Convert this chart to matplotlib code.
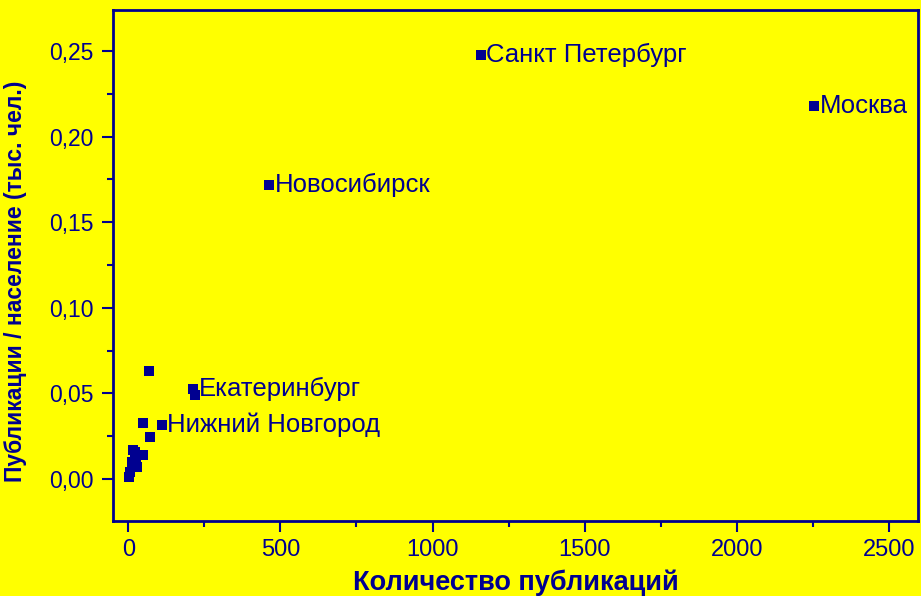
import matplotlib
matplotlib.use("Agg")
import matplotlib.pyplot as plt
from matplotlib.ticker import MultipleLocator, FuncFormatter

# publications count vs publications per population (thousand people)
pubs = [2255, 1159, 463, 214, 218, 110, 67, 50, 70, 50,
        17, 12, 28, 7, 1, 23, 26]
ratio = [0.218, 0.248, 0.172, 0.0525, 0.049, 0.0315, 0.063, 0.033, 0.0243, 0.014,
         0.017, 0.010, 0.007, 0.004, 0.0013, 0.016, 0.012]
names = ["Москва", "Санкт Петербург", "Новосибирск", "Екатеринбург", "", "Нижний Новгород",
         "", "", "", "", "", "", "", "", "", "", ""]

navy = "#000090"
bg = "#ffff00"

plt.rcParams['font.family'] = ['Liberation Sans', 'DejaVu Sans']

fig = plt.figure(figsize=(9.21, 5.96), dpi=100, facecolor=bg)
ax = fig.add_axes([0.1227, 0.1258, 0.874, 0.8574], facecolor=bg)

ax.plot(pubs, ratio, linestyle='none', marker='s', markersize=7.5,
        color=navy, markeredgewidth=0)
for x, y, n in zip(pubs, ratio, names):
    if n:
        ax.annotate(n, (x, y), xytext=(4, 0), textcoords='offset points',
                    va='center', ha='left', fontsize=18.5, color=navy)

ax.set_xlim(-50, 2595)
ax.set_ylim(-0.0245, 0.274)
ax.xaxis.set_major_locator(MultipleLocator(500))
ax.xaxis.set_minor_locator(MultipleLocator(250))
ax.yaxis.set_major_locator(MultipleLocator(0.05))
ax.yaxis.set_minor_locator(MultipleLocator(0.025))
ax.yaxis.set_major_formatter(FuncFormatter(lambda v, p: ("%.2f" % v).replace('.', ',')))

for s in ax.spines.values():
    s.set_color(navy)
    s.set_linewidth(2)
ax.tick_params(which='both', direction='out', colors=navy, width=1.5,
               top=False, right=False, labelcolor=navy)
ax.tick_params(which='major', length=8)
ax.tick_params(which='minor', length=4)
ax.tick_params(axis='y', labelsize=16.5, pad=6)
ax.tick_params(axis='x', labelsize=17, pad=5)

ax.set_xlabel('Количество публикаций', fontsize=19.5, fontweight='bold', color=navy, labelpad=6)
ax.set_ylabel('Публикации / население (тыс. чел.)', fontsize=16.5, fontweight='bold',
              color=navy)
ax.yaxis.set_label_coords(-0.107, 0.47)

fig.savefig('out.png', dpi=100, facecolor=bg)
